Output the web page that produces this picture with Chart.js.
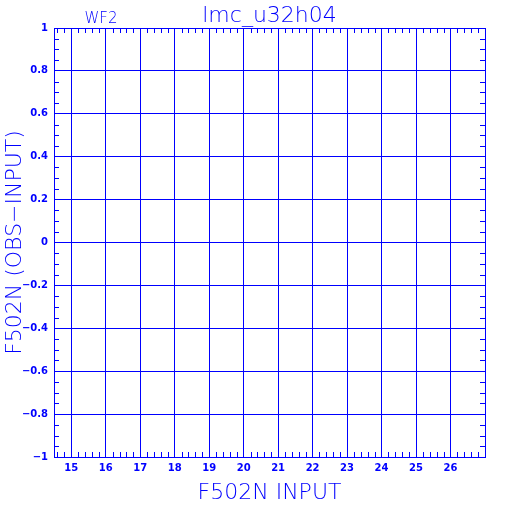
<!DOCTYPE html>
<html lang="en">
<head>
    <meta charset="UTF-8">
    <title>lmc_u32h04 - WF2</title>
    <script src="https://cdn.jsdelivr.net/npm/chart.js"></script>
    <style>
        body {
            margin: 0;
            padding: 0;
            background: #fff;
        }
        canvas {
            display: block;
        }
    </style>
</head>
<body>
    <canvas id="resid" width="512" height="512"></canvas>
    <script>
        // axis ticks (major) and their labels
        const xTicks = [15, 16, 17, 18, 19, 20, 21, 22, 23, 24, 25, 26];
        const yTicks = [-1, -0.8, -0.6, -0.4, -0.2, 0, 0.2, 0.4, 0.6, 0.8, 1];
        const yTickLabels = ['\u22121', '\u22120.8', '\u22120.6', '\u22120.4', '\u22120.2', '0', '0.2', '0.4', '0.6', '0.8', '1'];
        // plotted residuals - the panel is empty
        const inputMag = [];
        const obsMinusInput = [];

        const BLUE = '#0000ff';

        // minor ticks + box + titles
        const frame = {
            id: 'frame',
            afterDraw(chart) {
                const c = chart.ctx;
                const a = chart.chartArea;
                const xs = chart.scales.x, ys = chart.scales.y;
                c.save();
                c.strokeStyle = BLUE;
                c.lineWidth = 1;
                c.strokeRect(Math.round(a.left) + 0.5, Math.round(a.top) + 0.5,
                    Math.round(a.right - a.left), Math.round(a.bottom - a.top));

                c.beginPath();
                for (let i = 73; i <= 135; i++) {
                    if (i % 5 === 0) continue;
                    const px = Math.round(xs.getPixelForValue(i / 5)) + 0.5;
                    c.moveTo(px, a.bottom); c.lineTo(px, a.bottom - 5);
                    c.moveTo(px, a.top); c.lineTo(px, a.top + 5);
                }
                for (let i = -19; i <= 19; i++) {
                    if (i % 4 === 0) continue;
                    const py = Math.round(ys.getPixelForValue(i / 20)) + 0.5;
                    c.moveTo(a.left, py); c.lineTo(a.left + 5, py);
                    c.moveTo(a.right, py); c.lineTo(a.right - 5, py);
                }
                c.stroke();

                c.fillStyle = BLUE;
                c.textAlign = 'center';
                c.textBaseline = 'alphabetic';
                const cx = (a.left + a.right) / 2;
                c.font = '200 22px "DejaVu Sans"';
                c.fillText('lmc_u32h04', cx, 22);
                c.fillText('F502N INPUT', cx, 499);
                c.font = '200 15px "DejaVu Sans"';
                c.fillText('WF2', 101, 23);
                c.translate(21, (a.top + a.bottom) / 2);
                c.rotate(-Math.PI / 2);
                c.font = '200 22px "DejaVu Sans"';
                c.fillText('F502N (OBS\u2212INPUT)', 0, 0);
                c.restore();
            }
        };

        new Chart(document.getElementById('resid'), {
            type: 'scatter',
            data: {
                datasets: [{
                    data: inputMag.map((x, i) => ({ x: x, y: obsMinusInput[i] })),
                    backgroundColor: BLUE,
                    borderColor: BLUE,
                    pointRadius: 2
                }]
            },
            options: {
                responsive: false,
                animation: false,
                layout: { padding: { left: 0, top: 28, right: 27, bottom: 0 } },
                plugins: {
                    legend: { display: false },
                    tooltip: { enabled: false }
                },
                scales: {
                    x: {
                        type: 'linear',
                        min: 14.5,
                        max: 27,
                        afterBuildTicks: s => { s.ticks = xTicks.map(v => ({ value: v })); },
                        afterFit: s => { s.height = 55; },
                        grid: { color: BLUE, lineWidth: 1, drawTicks: false },
                        border: { color: BLUE, width: 1 },
                        ticks: {
                            color: BLUE,
                            padding: 5,
                            maxRotation: 0,
                            font: { family: 'DejaVu Sans', size: 10, weight: 'bold' },
                            callback: v => String(v)
                        }
                    },
                    y: {
                        type: 'linear',
                        min: -1,
                        max: 1,
                        afterBuildTicks: s => { s.ticks = yTicks.map(v => ({ value: v })); },
                        afterFit: s => { s.width = 54; },
                        grid: { color: BLUE, lineWidth: 1, drawTicks: false },
                        border: { color: BLUE, width: 1 },
                        ticks: {
                            color: BLUE,
                            padding: 6,
                            font: { family: 'DejaVu Sans', size: 10, weight: 'bold' },
                            callback: (v) => {
                                const k = yTicks.findIndex(t => Math.abs(t - v) < 1e-9);
                                return k >= 0 ? yTickLabels[k] : '';
                            }
                        }
                    }
                }
            },
            plugins: [frame]
        });
    </script>
</body>
</html>
